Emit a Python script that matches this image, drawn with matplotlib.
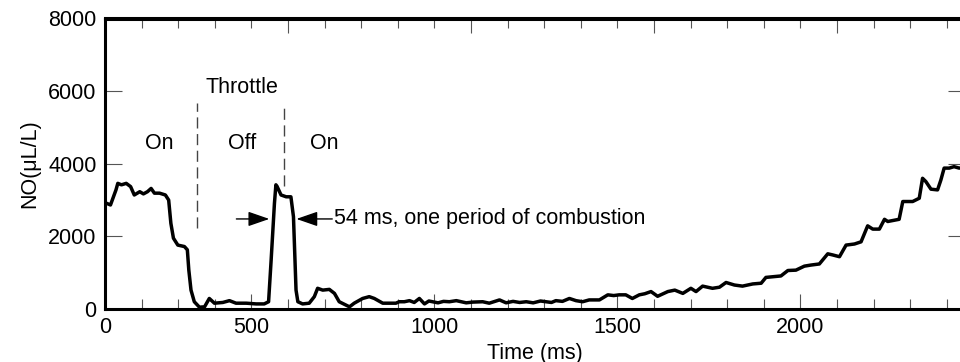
import matplotlib
matplotlib.use("Agg")
import matplotlib.pyplot as plt
from matplotlib.ticker import FixedLocator, MultipleLocator, NullFormatter

plt.rcParams['font.family'] = ['Liberation Sans', 'DejaVu Sans']

# ---- data (time in ms, NO in uL/L) ----
time_ms = [100, 104, 115, 130, 135, 145, 158, 170, 180, 195, 205, 216, 226, 235, 249, 265, 274,
           280, 287, 299, 317, 325, 329, 335, 344, 358, 372, 385, 399, 422, 440, 458, 486, 513,
           535, 547, 554, 563, 567, 570, 581, 595, 608, 615, 622, 627, 640, 658, 672, 681, 695,
           713, 727, 740, 768, 781, 804, 822, 836, 859, 895, 904, 918, 932, 945, 959, 973, 985,
           995, 1010, 1025, 1041, 1060, 1087, 1105, 1132, 1150, 1178, 1196, 1215, 1233, 1251,
           1270, 1290, 1305, 1320, 1332, 1350, 1369, 1387, 1405, 1423, 1451, 1474, 1490, 1505,
           1523, 1541, 1560, 1575, 1592, 1610, 1638, 1657, 1679, 1701, 1715, 1733, 1760, 1779,
           1797, 1820, 1842, 1870, 1893, 1906, 1947, 1966, 1988, 2011, 2029, 2052, 2075, 2088,
           2107, 2125, 2148, 2166, 2184, 2198, 2216, 2230, 2239, 2270, 2280, 2307, 2325, 2334,
           2343, 2357, 2375, 2384, 2393, 2407, 2420, 2434, 2450]
no_ppm = [2900, 2912, 2865, 3280, 3460, 3420, 3460, 3370, 3140, 3230, 3170, 3230, 3320, 3190,
          3190, 3140, 3000, 2360, 1950, 1760, 1720, 1630, 1075, 520, 200, 50, 60, 290, 160, 180,
          230, 160, 160, 140, 140, 200, 1350, 2910, 3420, 3380, 3140, 3090, 3090, 2540, 520,
          200, 140, 160, 340, 570, 520, 540, 430, 200, 60, 160, 290, 340, 290, 160, 160, 200,
          200, 230, 180, 290, 140, 220, 200, 170, 210, 200, 230, 170, 190, 200, 160, 250, 170,
          210, 180, 200, 170, 220, 200, 180, 230, 210, 290, 230, 200, 250, 250, 390, 370, 390,
          390, 290, 390, 420, 480, 350, 480, 520, 430, 570, 480, 630, 570, 600, 730, 660, 630,
          690, 710, 870, 910, 1060, 1070, 1180, 1210, 1240, 1520, 1490, 1440, 1760, 1790, 1850,
          2290, 2200, 2200, 2470, 2410, 2470, 2960, 2960, 3050, 3600, 3510, 3300, 3280, 3550,
          3880, 3880, 3920, 3880, 3900]

throttle_x = [352, 590]
throttle_top = [5670, 5670]
throttle_bottom = [2230, 3400]

state_labels = ['On', 'Off', 'On']
state_x = [249, 475, 699]
state_y = 4570

bottom_major = [100, 500, 1000, 1500, 2000]
bottom_labels = ['0', '500', '1000', '1500', '2000']
top_major = [600, 1100, 1600, 2100]
y_ticks = [0, 2000, 4000, 6000, 8000]

FS = 15.5

fig = plt.figure(figsize=(9.6, 3.62), dpi=100)
ax = fig.add_axes([105 / 960, 53 / 362, 860 / 960, 290.5 / 362])

ax.plot(time_ms, no_ppm, color='black', lw=2.5, solid_joinstyle='round', zorder=3)

for x, yt, yb in zip(throttle_x, throttle_top, throttle_bottom):
    ax.plot([x, x], [yb, yt], color='#444444', lw=1.0, dashes=(8, 4), zorder=2)

ax.text(475, 6090, 'Throttle', fontsize=FS, ha='center', va='center')
for lab, x in zip(state_labels, state_x):
    ax.text(x, state_y, lab, fontsize=FS, ha='center', va='center')

arrow_y = 2480
ax.annotate('', xy=(549, arrow_y), xytext=(459, arrow_y),
            arrowprops=dict(arrowstyle='-|>,head_length=1.3,head_width=0.45',
                            color='black', lw=1.0, mutation_scale=10,
                            shrinkA=0, shrinkB=0))
ax.annotate('', xy=(623, arrow_y), xytext=(721, arrow_y),
            arrowprops=dict(arrowstyle='-|>,head_length=1.3,head_width=0.45',
                            color='black', lw=1.0, mutation_scale=10,
                            shrinkA=0, shrinkB=0))
ax.text(727, arrow_y, '54 ms, one period of combustion', fontsize=FS,
        ha='left', va='center')

ax.set_xlim(100, 2450)
ax.set_ylim(0, 8000)

ax.xaxis.set_major_locator(FixedLocator(bottom_major))
ax.set_xticklabels(bottom_labels)
ax.xaxis.set_minor_locator(MultipleLocator(100))
ax.yaxis.set_major_locator(FixedLocator(y_ticks))

ax.tick_params(axis='x', which='major', direction='in', length=11, width=0.8,
               color='#555555', labelsize=FS, pad=6, top=False)
ax.tick_params(axis='x', which='minor', direction='in', length=7, width=0.8,
               color='#555555', top=False)
ax.tick_params(axis='y', which='major', direction='in', length=12, width=0.8,
               color='#555555', labelsize=FS, pad=6, right=True)

sec = ax.secondary_xaxis('top')
sec.xaxis.set_major_locator(FixedLocator(top_major))
sec.xaxis.set_minor_locator(MultipleLocator(100))
sec.xaxis.set_major_formatter(NullFormatter())
sec.tick_params(axis='x', which='major', direction='in', length=11, width=0.8,
                color='#555555')
sec.tick_params(axis='x', which='minor', direction='in', length=7, width=0.8,
                color='#555555')
sec.spines['top'].set_linewidth(2.2)

for s in ax.spines.values():
    s.set_linewidth(2.2)

ax.set_xlabel('Time (ms)', fontsize=FS, labelpad=3)
ax.set_ylabel('NO(μL/L)', fontsize=FS, labelpad=6)

fig.savefig('out.png', dpi=100)
